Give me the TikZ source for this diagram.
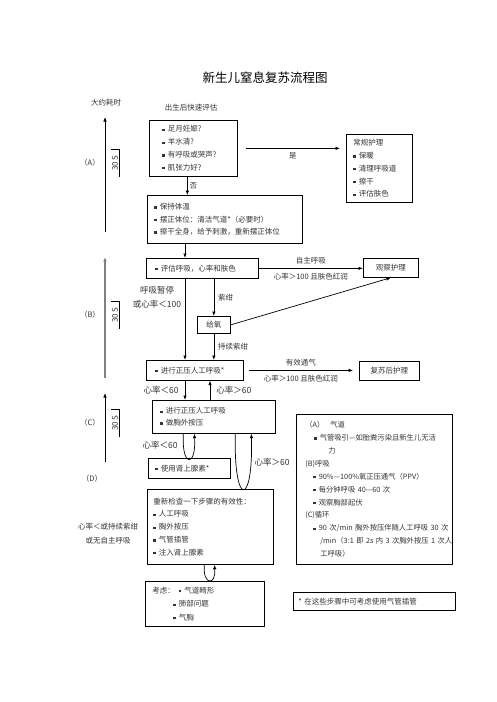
\documentclass[tikz,border=0pt]{standalone}
\usepackage{fontspec}
\setmainfont{Noto Sans CJK SC}
\usetikzlibrary{arrows.meta,positioning}

\newcommand{\bl}{\rule[0.12em]{0.3em}{0.3em}\kern0.45em}
\newcommand{\fs}{\fontsize{7.5}{12.8}\selectfont}

\tikzset{
  box/.style={draw, line width=0.7pt, anchor=north west, inner xsep=6pt, inner ysep=0pt,
    align=left, font=\fs, text=black!80},
  arr/.style={-{Latex[length=4.5pt,width=3.5pt]}, line width=0.7pt},
  lbl/.style={font=\fs, text=black!80, inner sep=1pt},
  hr/.style={font=\fontsize{8.5}{14}\selectfont, text=black!80, inner sep=1pt},
  tm/.style={font=\fontsize{8}{10}\selectfont, text=black!80, rotate=90, minimum width=28pt, inner sep=1pt}
}

\begin{document}
\begin{tikzpicture}
  \useasboundingbox (0,0) rectangle (496pt,-702pt);
  \node[font=\fontsize{12.5}{14}\selectfont] (title) at (265pt,-78pt) {新生儿窒息复苏流程图};
  \node[lbl] (est) at (106pt,-103pt) {大约耗时};
  \node[lbl] (start) at (191pt,-108pt) {出生后快速评估};

  % time line
  \coordinate (A1) at (105pt,-117pt);
  \coordinate (A2) at (105pt,-232pt);
  \coordinate (B1) at (105pt,-257pt);
  \coordinate (B2) at (105pt,-378pt);
  \coordinate (C1) at (105pt,-393pt);
  \coordinate (C2) at (105pt,-462pt);
  \draw[arr, {Latex[length=4.5pt,width=3.5pt]}-] (A1) -- (A2);
  \draw[arr, {Latex[length=4.5pt,width=3.5pt]}-, black!50, line width=1.2pt] (B1) -- (B2);
  \draw[arr, {Latex[length=4.5pt,width=3.5pt]}-] (C1) -- (C2);
  \node[lbl] (stA) at (90pt,-163pt) {（A）};
  \node[lbl] (stB) at (90pt,-315pt) {（B）};
  \node[lbl] (stC) at (90pt,-423pt) {（C）};
  \node[lbl] (stD) at (92pt,-479pt) {（D）};
  \node[tm] (tA) at (115pt,-163pt) {30 S};
  \node[tm] (tB) at (115pt,-315pt) {30 S};
  \node[tm] (tC) at (115pt,-423pt) {30 S};
  \draw[line width=0.4pt] (tA.north east) -- (tA.south east) -- (tA.south west);
  \draw[line width=0.4pt] (tB.north east) -- (tB.south east) -- (tB.south west);
  \draw[line width=0.4pt] (tC.north east) -- (tC.south east) -- (tC.south west);
  \node[lbl, align=center, font=\fontsize{7.5}{14}\selectfont] (fail) at (108pt,-534pt) {心率＜或持续紫绀\\或无自主呼吸};

  % boxes
  \node[box, inner xsep=13pt, text width=62pt, minimum height=56pt] (q) at (149pt,-120pt)
    {\bl 足月妊娠?\\ \bl 羊水清?\\ \bl 有呼吸或哭声?\\ \bl 肌张力好?};
  \node[box, inner xsep=7pt, text width=52pt, minimum height=68pt] (routine) at (346pt,-134pt)
    {常规护理\\ \bl 保暖\\ \bl 清理呼吸道\\ \bl 擦干\\ \bl 评估肤色};
  \node[box, inner xsep=7pt, text width=141pt, minimum height=48pt, font=\fontsize{7.5}{12.5}\selectfont] (warm) at (147pt,-195pt)
    {\bl 保持体温\\ \bl 摆正体位：清洁气道*（必要时）\\ \bl 擦干全身，给予刺激，重新摆正体位};
  \node[box, inner xsep=9pt, text width=94pt, minimum height=20pt] (eval) at (146pt,-258pt)
    {\bl 评估呼吸，心率和肤色};
  \node[box, align=center, text width=43pt, minimum height=19pt] (observe) at (363pt,-258pt) {观察护理};
  \node[box, align=center, inner xsep=2pt, text width=29pt, minimum height=17pt] (oxygen) at (197pt,-316pt) {给氧};
  \node[box, inner xsep=9pt, text width=79pt, minimum height=20pt] (ppv) at (146pt,-360pt)
    {\bl 进行正压人工呼吸*};
  \node[box, align=center, text width=48pt, minimum height=19pt] (post) at (359pt,-361pt) {复苏后护理};
  \node[box, inner xsep=8pt, text width=107pt, minimum height=33pt, font=\fontsize{7.5}{11.5}\selectfont] (cpr) at (152pt,-400pt)
    {\bl 进行正压人工呼吸\\ \bl 做胸外按压};
  \node[box, inner xsep=7pt, text width=68pt, minimum height=20pt] (epi) at (148pt,-458pt)
    {\bl 使用肾上腺素*};
  \node[box, text width=114pt, minimum height=75pt] (recheck) at (147pt,-489pt)
    {重新检查一下步骤的有效性：\\ \bl 人工呼吸\\ \bl 胸外按压\\ \bl 气管插管\\ \bl 注入肾上腺素};
  \node[box, inner xsep=7pt, text width=105pt, minimum height=45pt, font=\fontsize{7.5}{13.5}\selectfont] (consider) at (145pt,-581pt)
    {考虑：\kern4pt\bl 气道畸形\\ \hspace*{21pt}\bl 肺部问题\\ \hspace*{21pt}\bl 气胸};
  \node[box, inner xsep=5pt, text width=152pt, minimum height=18pt] (note) at (293pt,-592pt)
    {*~在这些步骤中可考虑使用气管插管};
  \node[box, inner xsep=9pt, text width=138pt, minimum height=150pt, font=\fontsize{7.3}{12.9}\selectfont] (info) at (296pt,-414pt)
    {（A）\kern6pt 气道\\
     \hspace*{9pt}\bl 气管吸引—如胎粪污染且新生儿无活\\
     \hspace*{23pt}力\\
     (B)呼吸\\
     \hspace*{8pt}\bl 90\%—100\%氧正压通气（PPV）\\
     \hspace*{8pt}\bl 每分钟呼吸~40—60~次\\
     \hspace*{8pt}\bl 观察胸部起伏\\
     (C)循环\\
     \hspace*{8pt}\bl 90~次/min~胸外按压伴随人工呼吸~30~次\\
     \hspace*{15pt}/min（3:1~即~2s~内~3~次胸外按压~1~次人\\
     \hspace*{15pt}工呼吸）};

  % connectors
  \coordinate (colA) at (185pt,0);
  \coordinate (colC) at (210pt,0);
  \draw[arr] ([xshift=-6pt]q.south) -- ([xshift=-6pt]q.south |- warm.north)
    node[midway, right=1pt, lbl] {否};
  \draw[arr] ([xshift=8pt]q.east) -- ([xshift=-6pt]q.east -| routine.west)
    node[midway, below=3pt, lbl] {是};
  \draw[arr] (warm.south -| colA) -- (eval.north -| colA);
  \draw[arr] (eval.east) -- (eval.east -| observe.west)
    node[midway, above=3pt, lbl] {自主呼吸}
    node[midway, below=3pt, lbl] {心率＞100~且肤色红润};
  \draw[arr] (eval.south -| colA) -- (ppv.north -| colA);
  \node[hr, align=center] (apnea) at (157pt,-297pt) {呼吸暂停\\或心率＜100};
  \draw[arr] (eval.south -| oxygen.north) -- (oxygen.north)
    node[midway, right=3pt, lbl] {紫绀};
  \draw[arr] (oxygen.south) -- (oxygen.south |- ppv.north)
    node[midway, right=3pt, lbl] {持续紫绀};
  \draw[arr] (oxygen.east) -- (observe.south);
  \draw[arr] ([xshift=5pt]ppv.east) -- ([xshift=-6pt]ppv.east -| post.west)
    node[midway, above=3pt, lbl] {有效通气}
    node[midway, below=3pt, lbl] {心率＞100~且肤色红润};
  \draw[arr] (ppv.south -| colA) -- (cpr.north -| colA)
    node[midway, left=5pt, hr] {心率＜60};
  \draw[arr] (cpr.north -| colC) -- (ppv.south -| colC)
    node[midway, right=5pt, hr] {心率＞60};
  \draw[arr] ([xshift=-30.5pt]cpr.south) .. controls +(-2pt,-34pt) and +(2pt,-34pt) .. ([xshift=-19.5pt]cpr.south);
  \node[hr] (lowA) at (160pt,-445pt) {心率＜60};
  \draw[arr] ([xshift=21.5pt]cpr.south) .. controls +(-2pt,-74pt) and +(2pt,-74pt) .. ([xshift=37.5pt]cpr.south);
  \node[hr] (highA) at (272pt,-462pt) {心率＞60};
  \draw[arr] ([xshift=-6pt]recheck.south) .. controls +(-2pt,-21pt) and +(2pt,-21pt) .. ([xshift=4pt]recheck.south);
\end{tikzpicture}
\end{document}
